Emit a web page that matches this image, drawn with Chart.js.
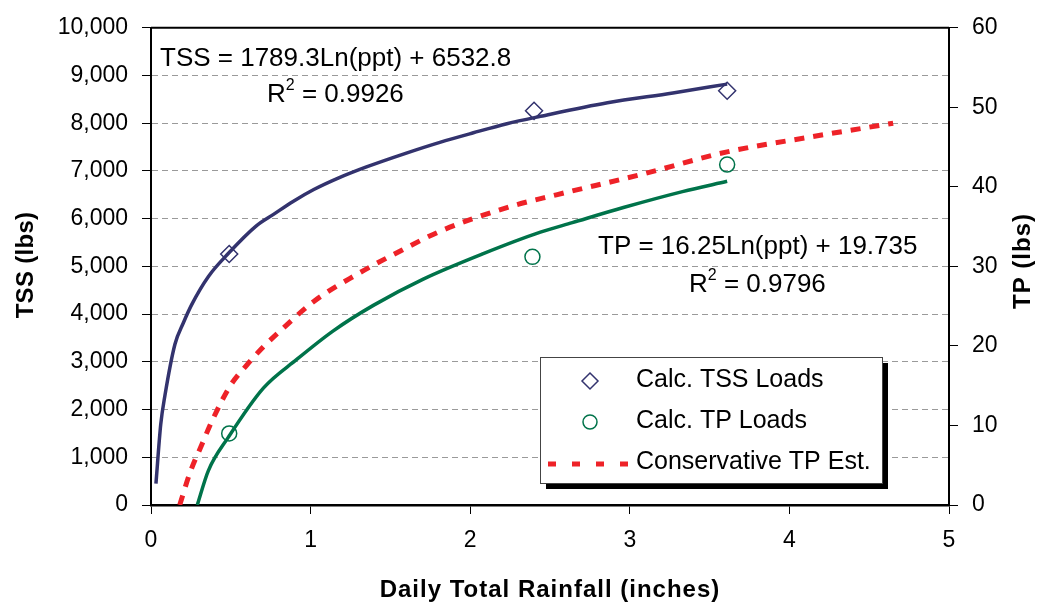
<!DOCTYPE html>
<html>
<head>
<meta charset="utf-8">
<script src="https://cdn.jsdelivr.net/npm/chart.js@4/dist/chart.umd.min.js"></script>
<style>
  html, body { margin: 0; padding: 0; background: #fff; }
  #wrap { width: 1039px; height: 604px; }
</style>
</head>
<body>
<div id="wrap"><canvas id="chart" width="1039" height="604"></canvas></div>
<script>
// observed loads
const tssObsX = [0.49, 2.40, 3.61];
const tssObsY = [5260, 8260, 8680];
const tpObsX = [0.49, 2.39, 3.61];
const tpObsY = [9.0, 31.2, 42.8];

// fitted TSS curve
const tssFitX = [0.031, 0.061, 0.088, 0.15, 0.203, 0.255, 0.36, 0.484, 0.66, 0.77, 0.89, 1.02, 1.18, 1.35, 1.60, 1.81, 2.02, 2.23, 2.44, 2.86, 3.27, 3.61];
const tssFitY = [450, 1690, 2310, 3370, 3820, 4200, 4790, 5270, 5850, 6095, 6360, 6610, 6860, 7085, 7375, 7600, 7800, 7990, 8145, 8430, 8635, 8820];

// fitted TP curve
const tpFitX = [0.29, 0.359, 0.484, 0.704, 0.913, 1.142, 1.393, 1.706, 2.082, 2.44, 2.64, 2.96, 3.33, 3.61];
const tpFitY = [0, 4.3, 8.5, 14.7, 18.3, 21.9, 25.1, 28.4, 31.6, 34.3, 35.5, 37.4, 39.4, 40.7];

// conservative TP estimate
const consX = [0.18, 0.245, 0.31, 0.39, 0.50, 0.60, 0.70, 0.81, 1.02, 1.29, 1.52, 1.81, 2.23, 2.54, 3.06, 3.61, 4.11, 4.65];
const consY = [0, 4.1, 7.2, 10.9, 15.1, 17.6, 19.8, 21.9, 25.6, 29.0, 31.5, 34.4, 37.4, 39.0, 41.5, 44.4, 46.2, 48.0];

const xTicks = [0, 1, 2, 3, 4, 5];

const NAVY = '#33336e';
const GREEN = '#00734a';
const RED = '#ee2228';
const FONT = '"Liberation Sans", Arial, sans-serif';

const pts = (xs, ys) => xs.map((x, i) => ({ x: x, y: ys[i] }));

// titles, equations, legend box and top border
const extras = {
  id: 'extras',
  afterDatasetsDraw(chart) {
    const ctx = chart.ctx;
    const a = chart.chartArea;
    ctx.save();

    // top frame line
    ctx.strokeStyle = '#000';
    ctx.lineWidth = 2;
    ctx.beginPath();
    ctx.moveTo(a.left, a.top);
    ctx.lineTo(a.right, a.top);
    ctx.stroke();

    // axis titles
    ctx.fillStyle = '#000';
    ctx.font = 'bold 24px ' + FONT;
    ctx.textAlign = 'center';
    ctx.textBaseline = 'alphabetic';
    ctx.letterSpacing = '1px';
    ctx.fillText('Daily Total Rainfall (inches)', 550, 597);
    ctx.textBaseline = 'middle';
    ctx.letterSpacing = '0.3px';
    ctx.save();
    ctx.translate(26, 265);
    ctx.rotate(-Math.PI / 2);
    ctx.fillText('TSS (lbs)', 0, 0);
    ctx.restore();
    ctx.letterSpacing = '1px';
    ctx.save();
    ctx.translate(1023, 261);
    ctx.rotate(-Math.PI / 2);
    ctx.fillText('TP (lbs)', 0, 0);
    ctx.restore();
    ctx.letterSpacing = '0px';

    // trend equations
    ctx.textAlign = 'left';
    ctx.textBaseline = 'alphabetic';
    ctx.font = '26px ' + FONT;
    ctx.fillText('TSS = 1789.3Ln(ppt) + 6532.8', 160, 66);
    ctx.fillText('TP = 16.25Ln(ppt) + 19.735', 598, 254);
    drawR2(ctx, 'R', '2', ' = 0.9926', 267, 102);
    drawR2(ctx, 'R', '2', ' = 0.9796', 689, 292);

    // legend box
    const bx = 540, by = 357, bw = 342, bh = 126;
    ctx.fillStyle = '#000';
    ctx.fillRect(bx + 6, by + 6, bw, bh);
    ctx.fillStyle = '#fff';
    ctx.fillRect(bx, by, bw, bh);
    ctx.strokeStyle = '#444';
    ctx.lineWidth = 1;
    ctx.strokeRect(bx + 0.5, by + 0.5, bw, bh);

    // diamond
    ctx.strokeStyle = NAVY;
    ctx.lineWidth = 1.5;
    ctx.beginPath();
    ctx.moveTo(590, 373); ctx.lineTo(598, 381); ctx.lineTo(590, 389); ctx.lineTo(582, 381);
    ctx.closePath();
    ctx.stroke();
    // circle
    ctx.strokeStyle = GREEN;
    ctx.beginPath();
    ctx.arc(590, 422, 7, 0, Math.PI * 2);
    ctx.stroke();
    // dashed line
    ctx.strokeStyle = RED;
    ctx.lineWidth = 5;
    ctx.setLineDash([8, 16]);
    ctx.beginPath();
    ctx.moveTo(548, 464);
    ctx.lineTo(630, 464);
    ctx.stroke();
    ctx.setLineDash([]);

    ctx.fillStyle = '#000';
    ctx.font = '25px ' + FONT;
    ctx.fillText('Calc. TSS Loads', 636, 387);
    ctx.fillText('Calc. TP Loads', 636, 428);
    ctx.fillText('Conservative TP Est.', 636, 469);
    ctx.restore();
  }
};

function drawR2(ctx, base, sup, rest, x, y) {
  ctx.font = '26px ' + FONT;
  ctx.fillText(base, x, y);
  let w = ctx.measureText(base).width;
  ctx.font = '16px ' + FONT;
  ctx.fillText(sup, x + w, y - 12);
  w += ctx.measureText(sup).width;
  ctx.font = '26px ' + FONT;
  ctx.fillText(rest, x + w, y);
}

const tickFont = { family: FONT, size: 23 };

new Chart(document.getElementById('chart'), {
  type: 'scatter',
  data: {
    datasets: [
      {
        label: 'Calc. TSS Loads',
        data: pts(tssObsX, tssObsY),
        yAxisID: 'y',
        pointStyle: 'rectRot',
        pointRadius: 8.5,
        pointBorderWidth: 1.5,
        borderColor: NAVY,
        backgroundColor: 'rgba(0,0,0,0)',
        showLine: false
      },
      {
        label: 'Calc. TP Loads',
        data: pts(tpObsX, tpObsY),
        yAxisID: 'y1',
        pointStyle: 'circle',
        pointRadius: 7.5,
        pointBorderWidth: 1.5,
        borderColor: GREEN,
        backgroundColor: 'rgba(0,0,0,0)',
        showLine: false
      },
      {
        label: 'TSS fit',
        data: pts(tssFitX, tssFitY),
        yAxisID: 'y',
        showLine: true,
        borderColor: NAVY,
        borderWidth: 3.5,
        pointRadius: 0,
        cubicInterpolationMode: 'monotone'
      },
      {
        label: 'TP fit',
        data: pts(tpFitX, tpFitY),
        yAxisID: 'y1',
        showLine: true,
        borderColor: GREEN,
        borderWidth: 3.5,
        pointRadius: 0,
        cubicInterpolationMode: 'monotone'
      },
      {
        label: 'Conservative TP Est.',
        data: pts(consX, consY),
        yAxisID: 'y1',
        showLine: true,
        borderColor: RED,
        borderWidth: 5,
        borderDash: [10, 9],
        pointRadius: 0,
        cubicInterpolationMode: 'monotone'
      }
    ]
  },
  options: {
    responsive: false,
    animation: false,
    locale: 'en-US',
    layout: { padding: { top: 21, left: 0, right: 0, bottom: 0 } },
    plugins: { legend: { display: false }, tooltip: { enabled: false } },
    scales: {
      x: {
        type: 'linear',
        min: 0, max: 5,
        afterBuildTicks: s => { s.ticks = xTicks.map(v => ({ value: v })); },
        afterFit: s => { s.height = 99; },
        grid: { drawOnChartArea: false, color: '#000', tickLength: 9, lineWidth: 1 },
        border: { color: '#000', width: 2.5 },
        ticks: { color: '#000', font: tickFont, padding: 13, maxRotation: 0 }
      },
      y: {
        position: 'left',
        min: 0, max: 10000,
        afterFit: s => { s.width = 151; },
        grid: { color: '#9a9a9a', tickColor: '#000', tickLength: 9, lineWidth: 1, tickBorderDash: [] },
        border: { color: '#000', width: 2, dash: [6, 4] },
        ticks: { stepSize: 1000, color: '#000', font: tickFont, padding: 14 }
      },
      y1: {
        position: 'right',
        min: 0, max: 60,
        afterFit: s => { s.width = 90; },
        grid: { drawOnChartArea: false, color: '#000', tickLength: 9, lineWidth: 1 },
        border: { color: '#000', width: 2 },
        ticks: { stepSize: 10, color: '#000', font: tickFont, padding: 14 }
      }
    }
  },
  plugins: [extras]
});
</script>
</body>
</html>
